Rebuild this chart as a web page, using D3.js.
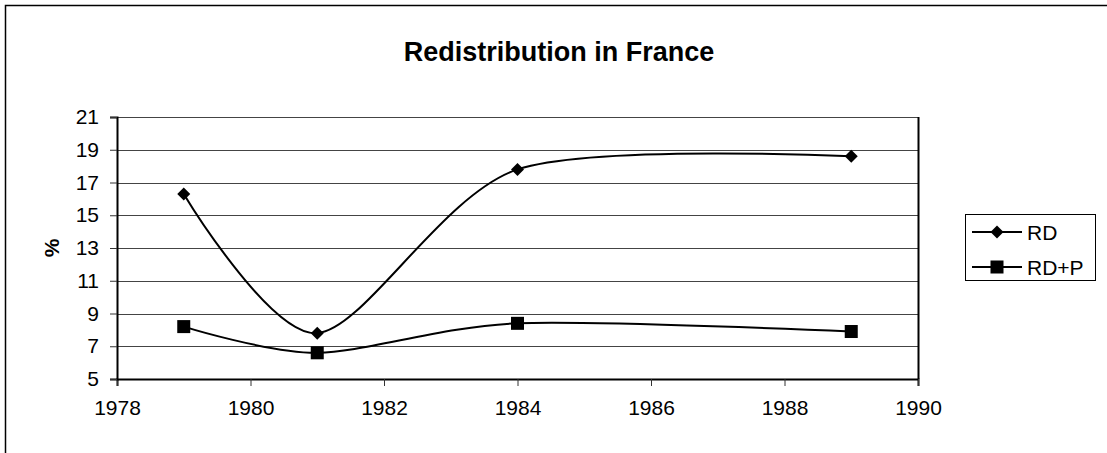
<!DOCTYPE html>
<html>
<head>
<meta charset="utf-8">
<script src="https://cdn.jsdelivr.net/npm/d3@7"></script>
<style>
  body { margin: 0; background: #fff; }
  svg text { font-family: "Liberation Sans", Arial, sans-serif; fill: #000; }
</style>
</head>
<body>
<svg id="chart" width="1107" height="453"></svg>
<script>
// chart values
var years = [1979, 1981, 1984, 1989];
var rdValues = [16.3, 7.8, 17.8, 18.6];
var rdpValues = [8.2, 6.6, 8.4, 7.9];
var seriesNames = ["RD", "RD+P"];
var xTicks = [1978, 1980, 1982, 1984, 1986, 1988, 1990];
var yTicks = [5, 7, 9, 11, 13, 15, 17, 19, 21];

var svg = d3.select("#chart");
var margin = { top: 117, left: 117, right: 189, bottom: 74 };
var w = 1107 - margin.left - margin.right;
var h = 453 - margin.top - margin.bottom;

// outer frame (runs off the right and bottom of the picture)
svg.append("rect")
    .attr("x", 5.5).attr("y", 5.5)
    .attr("width", 1200).attr("height", 600)
    .attr("fill", "none").attr("stroke", "#000").attr("stroke-width", 1.5);

svg.append("text")
    .attr("x", 559).attr("y", 61)
    .attr("text-anchor", "middle")
    .style("font-size", "27px").style("font-weight", "bold")
    .text("Redistribution in France");

var x = d3.scaleLinear().domain([1978, 1990]).range([0, w]);
var y = d3.scaleLinear().domain([5, 21]).range([h, 0]);

var g = svg.append("g")
    .attr("transform", "translate(" + margin.left + "," + margin.top + ")");

// gridlines
g.selectAll(".grid")
    .data(yTicks.slice(1))
    .enter().append("line")
    .attr("class", "grid")
    .attr("x1", 0).attr("x2", w)
    .attr("y1", function(d) { return Math.round(y(d)) + 0.5; })
    .attr("y2", function(d) { return Math.round(y(d)) + 0.5; })
    .attr("stroke", "#444").attr("stroke-width", 1);

// right edge of plot area
g.append("line")
    .attr("x1", w + 0.5).attr("x2", w + 0.5).attr("y1", 0).attr("y2", h)
    .attr("stroke", "#000").attr("stroke-width", 2);

var xAxis = g.append("g")
    .attr("transform", "translate(0," + h + ")")
    .call(d3.axisBottom(x).tickValues(xTicks).tickFormat(d3.format("d")).tickSizeOuter(0).tickSize(7).tickPadding(14));

var yAxis = g.append("g")
    .call(d3.axisLeft(y).tickValues(yTicks).tickSizeOuter(0).tickSize(7).tickPadding(11));

[xAxis, yAxis].forEach(function(a) {
    a.select(".domain").attr("stroke", "#000").attr("stroke-width", 2);
    a.selectAll(".tick line").attr("stroke", "#333");
    a.selectAll(".tick text")
        .style("font-size", "21px")
        .style("font-family", "'Liberation Sans', Arial, sans-serif")
        .attr("fill", "#000");
});

svg.append("text")
    .attr("transform", "translate(59,248) rotate(-90)")
    .attr("text-anchor", "middle")
    .style("font-size", "21px").style("font-weight", "bold")
    .text("%");

var line = d3.line()
    .x(function(d) { return x(d[0]); })
    .y(function(d) { return y(d[1]); })
    .curve(d3.curveCardinal.tension(0.15));

var series = [
    { name: seriesNames[0], values: years.map(function(yr, i) { return [yr, rdValues[i]]; }), shape: "diamond" },
    { name: seriesNames[1], values: years.map(function(yr, i) { return [yr, rdpValues[i]]; }), shape: "square" }
];

function drawMarker(sel, shape) {
    if (shape === "diamond") {
        sel.append("path").attr("d", "M0,-6.5L6.5,0L0,6.5L-6.5,0Z").attr("fill", "#000");
    } else {
        sel.append("rect").attr("x", -6.5).attr("y", -6.5).attr("width", 13).attr("height", 13).attr("fill", "#000");
    }
}

series.forEach(function(s) {
    g.append("path")
        .datum(s.values)
        .attr("fill", "none")
        .attr("stroke", "#000")
        .attr("stroke-width", 2)
        .attr("d", line);

    g.selectAll(null)
        .data(s.values)
        .enter().append("g")
        .attr("transform", function(d) { return "translate(" + x(d[0]) + "," + y(d[1]) + ")"; })
        .each(function() { drawMarker(d3.select(this), s.shape); });
});

// legend
var legend = svg.append("g");
legend.append("rect")
    .attr("x", 965.5).attr("y", 214.5).attr("width", 130).attr("height", 66)
    .attr("fill", "#fff").attr("stroke", "#000").attr("stroke-width", 1);

series.forEach(function(s, i) {
    var ly = 232 + i * 35;
    legend.append("line")
        .attr("x1", 972).attr("x2", 1022).attr("y1", ly).attr("y2", ly)
        .attr("stroke", "#000").attr("stroke-width", 2);
    var m = legend.append("g").attr("transform", "translate(997," + ly + ")");
    drawMarker(m, s.shape);
    legend.append("text")
        .attr("x", 1027).attr("y", ly + 7.5)
        .style("font-size", "21px")
        .text(s.name);
});
</script>
</body>
</html>
